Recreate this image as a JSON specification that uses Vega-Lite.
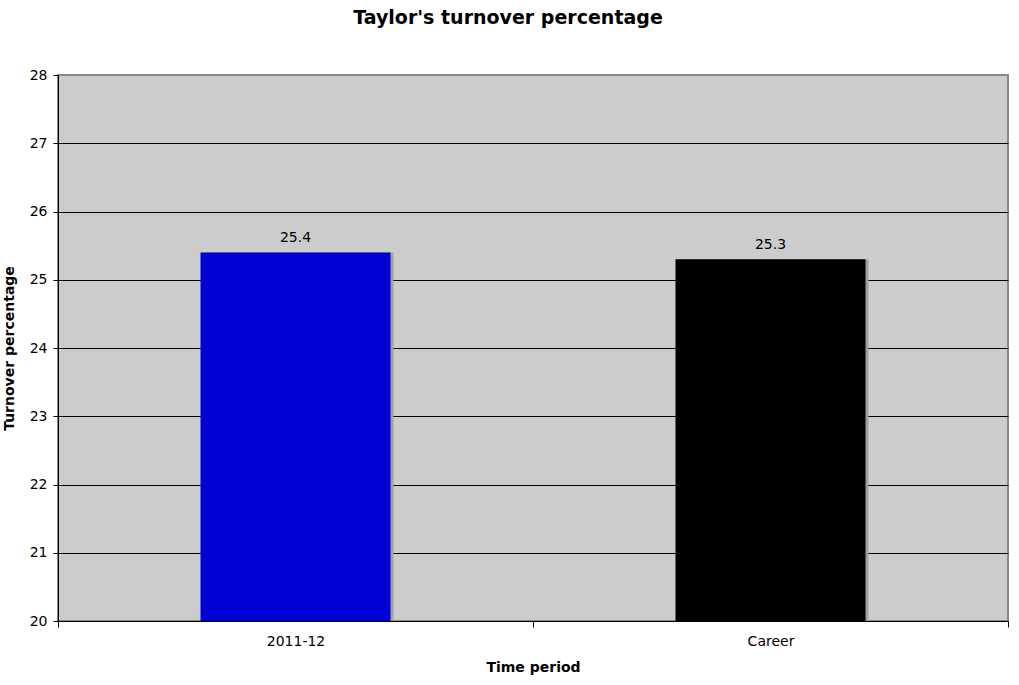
{
  "$schema": "https://vega.github.io/schema/vega-lite/v6.json",
  "width": 950,
  "height": 546,
  "autosize": {"type": "none"},
  "padding": {"left": 58, "top": 75, "right": 11, "bottom": 64},
  "background": "white",
  "title": {
    "text": "Taylor's turnover percentage",
    "font": "DejaVu Sans",
    "fontSize": 19,
    "fontWeight": "bold",
    "color": "black",
    "anchor": "middle",
    "offset": 40,
    "dx": -25
  },
  "config": {
    "view": {"fill": "#cccccc", "stroke": "#888888", "strokeWidth": 2},
    "font": "DejaVu Sans"
  },
  "data": {
    "values": [
      {"period": "2011-12", "pct": 25.4, "color": "#0000d6"},
      {"period": "Career", "pct": 25.3, "color": "#000000"}
    ]
  },
  "encoding": {
    "x": {
      "field": "period",
      "type": "nominal",
      "sort": null,
      "title": "Time period",
      "scale": {"paddingInner": 0, "paddingOuter": 0},
      "axis": {
        "tickBand": "extent",
        "labelAngle": 0,
        "labelFontSize": 14,
        "labelColor": "black",
        "labelPadding": 7,
        "tickColor": "black",
        "tickSize": 6,
        "domainColor": "black",
        "titleFontSize": 14,
        "titleFontWeight": "bold",
        "titleColor": "black",
        "titlePadding": 12
      }
    },
    "y": {
      "field": "pct",
      "type": "quantitative",
      "title": "Turnover percentage",
      "scale": {"domain": [20, 28], "zero": false},
      "axis": {
        "values": [20, 21, 22, 23, 24, 25, 26, 27, 28],
        "grid": true,
        "gridColor": {"condition": {"test": "datum.value == 28", "value": "#888888"}, "value": "black"},
        "gridOpacity": 1,
        "gridWidth": 1,
        "labelFontSize": 14,
        "labelColor": "black",
        "labelPadding": 6,
        "tickColor": "black",
        "tickSize": 5,
        "domainColor": "black",
        "titleFontSize": 14,
        "titleFontWeight": "bold",
        "titleColor": "black",
        "titlePadding": 13
      }
    }
  },
  "layer": [
    {
      "mark": {"type": "bar", "color": "#a0a0a0", "xOffset": 3, "width": {"band": 0.4}},
      "encoding": {"y2": {"datum": 20}}
    },
    {
      "mark": {"type": "bar", "width": {"band": 0.4}},
      "encoding": {
        "y2": {"datum": 20},
        "color": {"field": "color", "type": "nominal", "scale": null}
      }
    },
    {
      "mark": {"type": "text", "baseline": "bottom", "dy": -7, "fontSize": 14, "color": "black"},
      "encoding": {"text": {"field": "pct", "type": "quantitative", "format": ".1f"}}
    }
  ]
}
